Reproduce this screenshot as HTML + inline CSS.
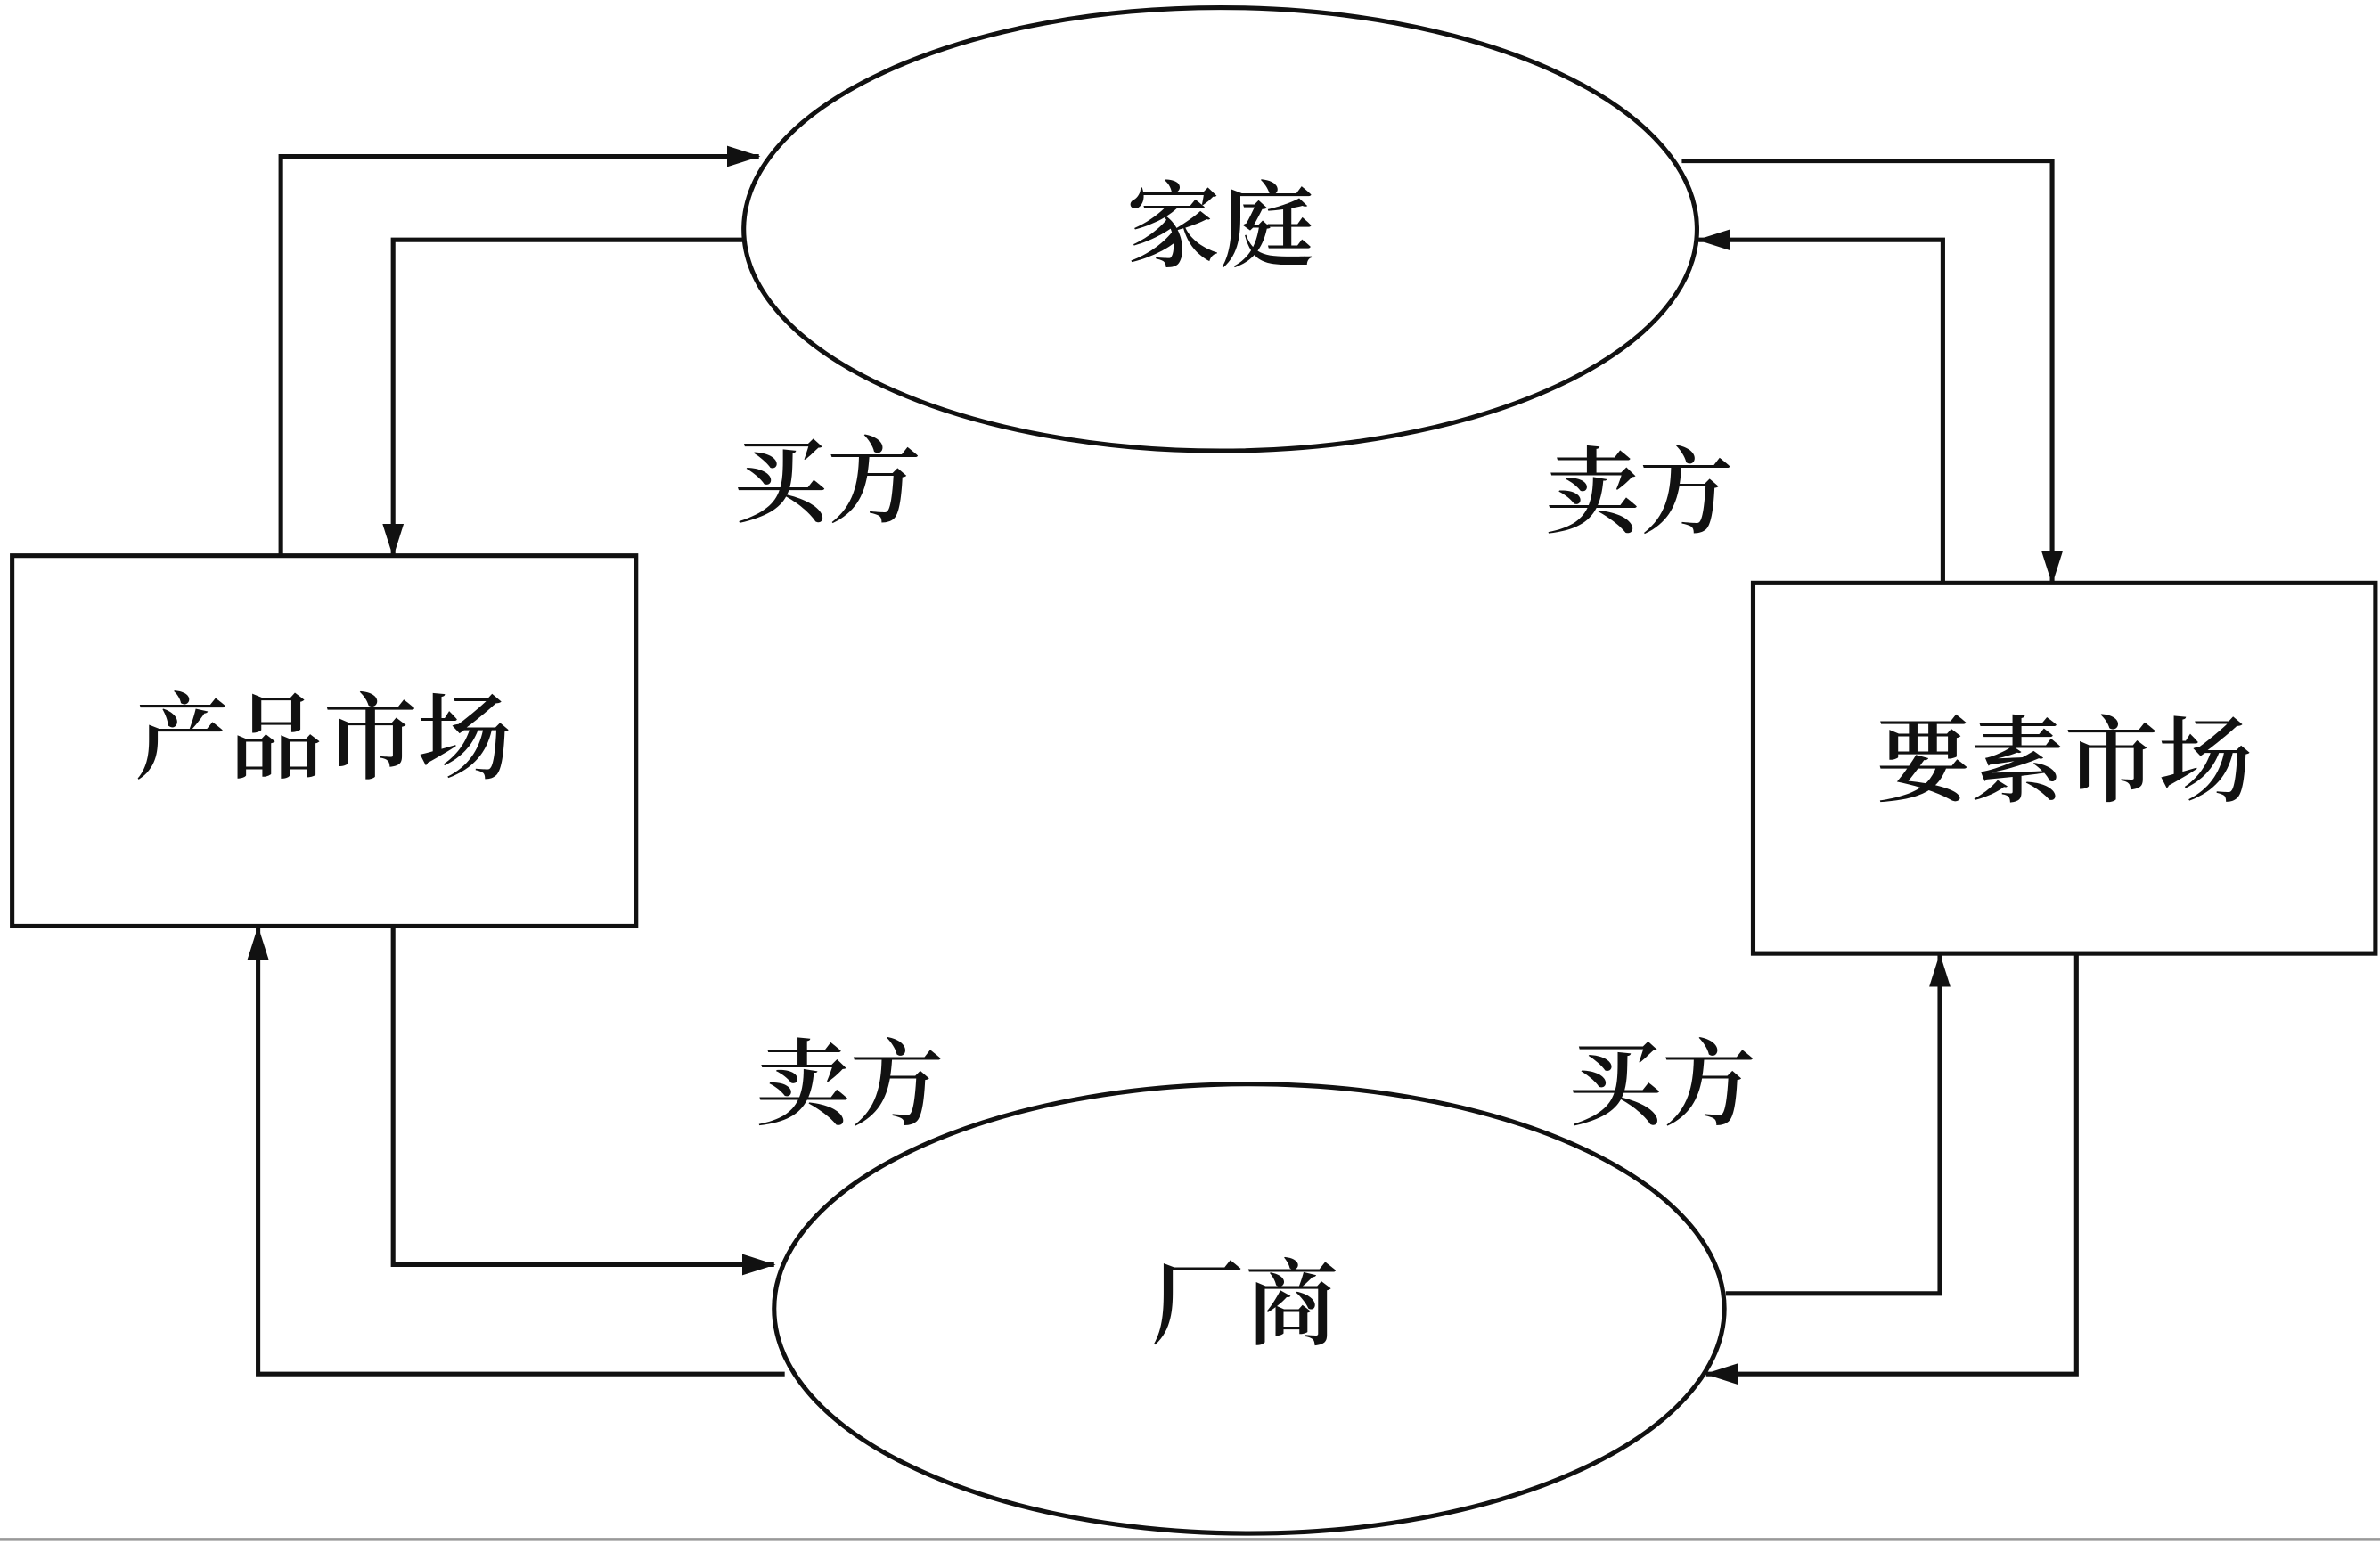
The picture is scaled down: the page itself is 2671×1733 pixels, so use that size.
<!DOCTYPE html>
<html><head><meta charset="utf-8"><style>
html,body{margin:0;padding:0;background:#fff;}
svg{display:block;}
text{font-family:"Liberation Serif","Noto Serif CJK SC",serif;fill:#111;text-anchor:middle;dominant-baseline:central;font-weight:600;}
</style></head><body>
<svg width="2671" height="1733" viewBox="0 0 1568 1017" preserveAspectRatio="none" xmlns="http://www.w3.org/2000/svg">
<defs><marker id="a" markerWidth="22" markerHeight="14" refX="21" refY="7" orient="auto" markerUnits="userSpaceOnUse"><path d="M0,0 L22,7 L0,14 z" fill="#111"/></marker></defs>
<rect width="1568" height="1017" fill="#fff"/>
<g stroke="#111" stroke-width="3" fill="none">
<ellipse cx="804" cy="151" rx="314" ry="146"/>
<ellipse cx="823" cy="862" rx="313" ry="148"/>
<rect x="8" y="366" width="411" height="244"/>
<rect x="1155" y="384" width="410" height="244"/>
<polyline points="185,366 185,103 500,103" marker-end="url(#a)"/>
<polyline points="490,158 259,158 259,366" marker-end="url(#a)"/>
<polyline points="1108,106 1352,106 1352,384" marker-end="url(#a)"/>
<polyline points="1280,384 1280,158 1119,158" marker-end="url(#a)"/>
<polyline points="259,610 259,833 510,833" marker-end="url(#a)"/>
<polyline points="517,905 170,905 170,611" marker-end="url(#a)"/>
<polyline points="1137,852 1278,852 1278,629" marker-end="url(#a)"/>
<polyline points="1368,628 1368,905 1124,905" marker-end="url(#a)"/>
</g>
<line x1="0" y1="1014" x2="1568" y2="1014" stroke="#999" stroke-width="2"/>
<g font-size="62">
<text x="804" y="150">家庭</text>
<text x="820" y="860">厂商</text>
<text x="213" y="487">产品市场</text>
<text x="1360" y="502">要素市场</text>
<text x="545" y="318">买方</text>
<text x="1080" y="325">卖方</text>
<text x="560" y="715">卖方</text>
<text x="1095" y="715">买方</text>
</g>
</svg>
</body></html>
